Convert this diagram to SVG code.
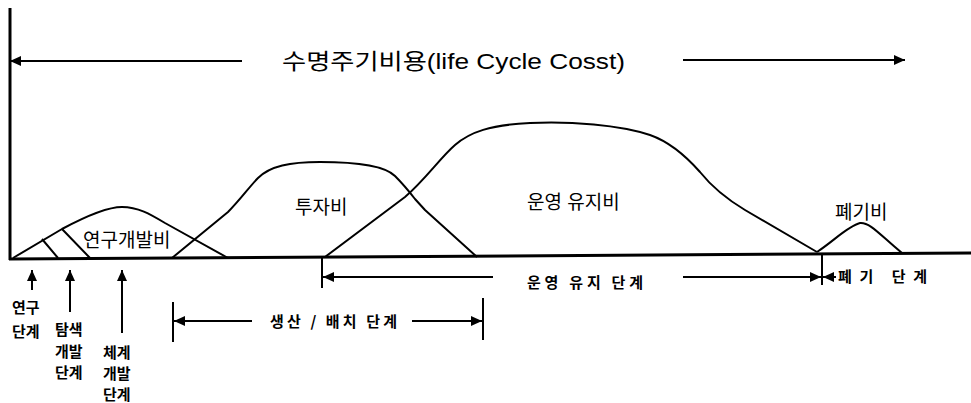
<svg xmlns="http://www.w3.org/2000/svg" width="971" height="403" viewBox="0 0 971 403">
<style>
.ax{stroke:#000;stroke-width:3;fill:none}
.cv{stroke:#000;stroke-width:2;fill:none;stroke-linejoin:round}
.ar{stroke:#000;stroke-width:2;fill:none}
.tk{stroke:#000;stroke-width:2}
.lb{font-family:"Liberation Sans","Noto Sans CJK KR",sans-serif;font-size:19px;fill:#000}
.sm{font-family:"Noto Sans CJK KR",sans-serif;font-size:15px;font-weight:bold;fill:#000}
.tt{font-family:"Liberation Sans","Noto Sans CJK KR",sans-serif;font-size:22px;fill:#000}
</style>
<defs>
<marker id="ah" markerUnits="userSpaceOnUse" markerWidth="12" markerHeight="12" refX="11" refY="6" orient="auto">
<path d="M0,1 L11,6 L0,11 z" fill="#000"/>
</marker>
</defs>
<g id="axes">
<line class="ax" x1="10" y1="8" x2="10" y2="260"/>
<line class="ax" x1="9" y1="259" x2="971" y2="253"/>
</g>
<g id="title">
<text class="tt" x="282" y="69" textLength="343" lengthAdjust="spacingAndGlyphs">수명주기비용(life Cycle Cosst)</text>
</g>
<g id="rnd-cost">
<path class="cv" d="M13,258 L62,229 C90,214 108,207 122,207 C138,207 150,214 165,223 L228,258"/>
<path class="cv" d="M42,239 L58,258 M62,229 L90,258"/>
<text class="lb" x="83" y="247">연구개발비</text>
</g>
<g id="invest-cost">
<path class="cv" d="M172,258 L228,212 C240,200 250,186 258,178 C270,166 290,162 320,162 C360,162 385,166 395,176 C402,183 408,190 415,199 L425,210 L477,257"/>
<text class="lb" x="295" y="214">투자비</text>
</g>
<g id="om-cost">
<path class="cv" d="M325,257 L405,197 C425,180 440,158 455,145 C470,132 490,125 530,123 C570,121 620,125 650,135 C670,142 685,155 700,172 C712,187 725,198 745,210 L817,252"/>
<text class="lb" x="527" y="209">운영 유지비</text>
</g>
<g id="disposal-cost">
<path class="cv" d="M817,252 C835,240 848,226 860,223 C870,222 880,235 902,253"/>
<text class="lb" x="835" y="219">폐기비</text>
</g>
<g id="connectors">
<line class="ar" x1="242" y1="61" x2="10" y2="61" marker-end="url(#ah)"/>
<line class="ar" x1="683" y1="60" x2="905" y2="60" marker-end="url(#ah)"/>
<line class="ar" x1="32" y1="290" x2="32" y2="270" marker-end="url(#ah)"/>
<line class="ar" x1="70" y1="312" x2="70" y2="270" marker-end="url(#ah)"/>
<line class="ar" x1="122" y1="333" x2="122" y2="270" marker-end="url(#ah)"/>
<line class="tk" x1="322" y1="257" x2="322" y2="288"/>
<line class="ar" x1="493" y1="277" x2="323" y2="277" marker-end="url(#ah)"/>
<line class="ar" x1="683" y1="277" x2="821" y2="277" marker-end="url(#ah)"/>
<line class="tk" x1="822" y1="253" x2="822" y2="285"/>
<line class="ar" x1="836" y1="277" x2="823" y2="277" marker-end="url(#ah)"/>
<line class="tk" x1="173" y1="302" x2="173" y2="342"/>
<line class="tk" x1="483" y1="298" x2="483" y2="340"/>
<line class="ar" x1="252" y1="321" x2="174" y2="321" marker-end="url(#ah)"/>
<line class="ar" x1="412" y1="321" x2="482" y2="321" marker-end="url(#ah)"/>
</g>
<g id="phase-labels">
<text class="sm" x="12" y="313">연구</text>
<text class="sm" x="12" y="337">단계</text>
<text class="sm" x="55" y="335">탐색</text>
<text class="sm" x="55" y="357">개발</text>
<text class="sm" x="55" y="378">단계</text>
<text class="sm" x="103" y="358">체계</text>
<text class="sm" x="103" y="379">개발</text>
<text class="sm" x="103" y="400">단계</text>
<text class="sm" x="527" y="288" textLength="116">운영 유지 단계</text>
<text class="sm" x="270" y="327" textLength="127">생산 / 배치 단계</text>
<text class="sm" x="838" y="282" textLength="89">폐기 단계</text>
</g>
</svg>
